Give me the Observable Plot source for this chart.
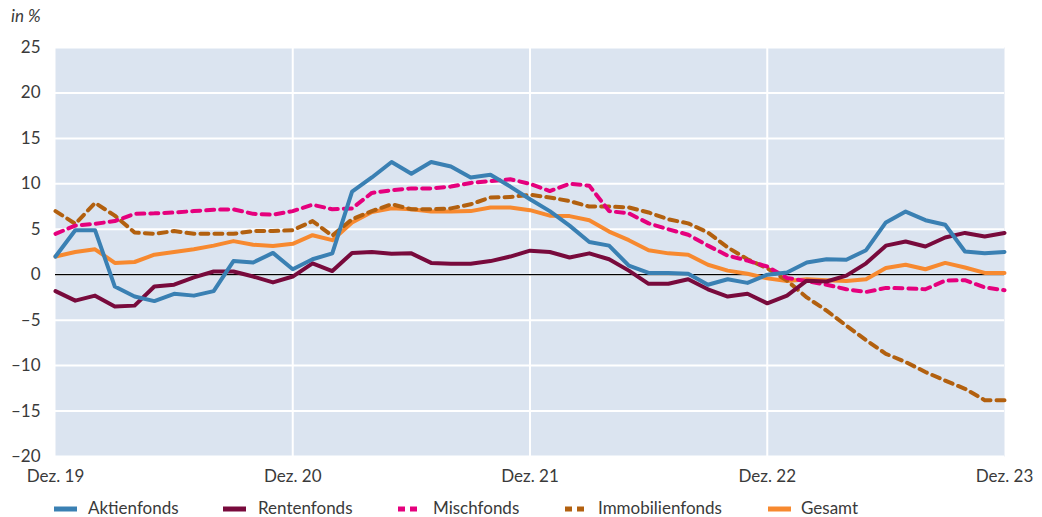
<!DOCTYPE html>
<html><head><meta charset="utf-8">
<script src="https://cdn.jsdelivr.net/npm/d3@7"></script>
<script src="https://cdn.jsdelivr.net/npm/@observablehq/plot@0.6"></script>
<style>
body{margin:0;background:#fff;font-family:Lato, "Open Sans", sans-serif;color:#3a3a3a;}
#wrap{position:relative;width:1042px;height:517px;overflow:hidden;}
#unit{position:absolute;left:11px;top:5px;font-style:italic;font-size:17px;}
#chart{position:absolute;left:0;top:30px;}
.sw{position:absolute;top:506px;}
.lt{position:absolute;top:498px;font-size:17px;white-space:nowrap;line-height:20px;}
</style></head>
<body><div id="wrap"><div id="unit">in %</div><div id="chart"></div><div id="legend"></div></div>
<script>
// month index 0 = Dez. 19 ... 48 = Dez. 23
const months = d3.range(0, 49);
const tickMonths = [0, 12, 24, 36, 48];
const tickLabels = ["Dez. 19", "Dez. 20", "Dez. 21", "Dez. 22", "Dez. 23"];
const yTicks = [-20, -15, -10, -5, 0, 5, 10, 15, 20, 25];
const seriesNames = ["Aktienfonds", "Rentenfonds", "Mischfonds", "Immobilienfonds", "Gesamt"];

const aktienfonds = [2.0, 4.9, 4.9, -1.3, -2.4, -2.9, -2.1, -2.3, -1.8, 1.5, 1.35, 2.4, 0.6, 1.7, 2.35, 9.15, 10.7, 12.4, 11.1, 12.4, 11.9, 10.7, 11.0, 9.7, 8.3, 7.0, 5.4, 3.6, 3.2, 1.0, 0.2, 0.2, 0.1, -1.1, -0.5, -0.9, 0.0, 0.25, 1.35, 1.7, 1.65, 2.7, 5.75, 6.95, 6.0, 5.5, 2.55, 2.35, 2.5];
const rentenfonds = [-1.8, -2.85, -2.3, -3.5, -3.4, -1.3, -1.1, -0.3, 0.35, 0.35, -0.2, -0.85, -0.2, 1.25, 0.4, 2.4, 2.5, 2.3, 2.35, 1.3, 1.2, 1.2, 1.5, 2.0, 2.65, 2.5, 1.9, 2.35, 1.7, 0.45, -1.0, -1.0, -0.5, -1.6, -2.4, -2.1, -3.15, -2.3, -0.65, -0.75, -0.1, 1.25, 3.2, 3.65, 3.1, 4.1, 4.6, 4.2, 4.6];
const mischfonds = [4.5, 5.4, 5.6, 5.9, 6.7, 6.75, 6.85, 7.0, 7.15, 7.2, 6.7, 6.6, 7.0, 7.7, 7.2, 7.3, 9.0, 9.3, 9.5, 9.5, 9.7, 10.1, 10.3, 10.5, 10.0, 9.2, 10.0, 9.8, 7.0, 6.75, 5.65, 5.0, 4.4, 3.2, 2.1, 1.55, 0.9, -0.35, -0.7, -1.1, -1.6, -1.9, -1.45, -1.5, -1.6, -0.65, -0.6, -1.4, -1.7];
const immobilienfonds = [7.0, 5.6, 7.9, 6.5, 4.65, 4.5, 4.8, 4.5, 4.5, 4.5, 4.8, 4.8, 4.9, 5.9, 4.3, 6.1, 7.0, 7.75, 7.2, 7.2, 7.3, 7.75, 8.5, 8.55, 8.8, 8.5, 8.1, 7.5, 7.5, 7.4, 6.85, 6.1, 5.65, 4.65, 3.0, 1.7, 0.7, -0.65, -2.5, -3.95, -5.6, -7.2, -8.7, -9.6, -10.7, -11.65, -12.55, -13.8, -13.8];
const gesamt = [2.0, 2.5, 2.8, 1.3, 1.4, 2.2, 2.5, 2.8, 3.2, 3.7, 3.3, 3.15, 3.4, 4.35, 3.8, 5.75, 6.9, 7.3, 7.2, 6.95, 6.95, 7.0, 7.4, 7.4, 7.1, 6.5, 6.45, 6.0, 4.75, 3.8, 2.7, 2.35, 2.2, 1.1, 0.45, 0.1, -0.4, -0.7, -0.5, -0.6, -0.7, -0.5, 0.75, 1.1, 0.6, 1.3, 0.8, 0.2, 0.2];

const seriesValues = [aktienfonds, rentenfonds, mischfonds, immobilienfonds, gesamt];
const colors = ["#3a80b3", "#780a3c", "#e5007d", "#b2600f", "#f7892f"];
const dashes = [null, null, "8,6", "8,6", null];
const drawOrder = [4, 3, 2, 1, 0];

const rows = (k) => months.map((m, i) => ({month: m, value: seriesValues[k][i], series: seriesNames[k]}));
const fmt = d => d < 0 ? "\u2013" + Math.abs(d) : String(d);

const chart = Plot.plot({
  width: 1042, height: 466,
  marginLeft: 55, marginRight: 38, marginTop: 17, marginBottom: 40,
  style: {fontFamily: "Lato, 'Open Sans', sans-serif", fontSize: "17px", color: "#3a3a3a", background: "transparent"},
  x: {domain: [0, 48]},
  y: {domain: [-20, 25]},
  marks: [
    Plot.frame({fill: "#dbe4f0", stroke: null}),
    Plot.gridY(yTicks, {stroke: "#fff", strokeOpacity: 1, strokeWidth: 2}),
    Plot.gridX(tickMonths.slice(1, -1), {stroke: "#fff", strokeOpacity: 1, strokeWidth: 2}),
    Plot.ruleY([0], {stroke: "#000", strokeWidth: 1.3}),
    ...drawOrder.map(k => Plot.line(rows(k), {x: "month", y: "value", stroke: colors[k], strokeWidth: 4, strokeDasharray: dashes[k] ?? undefined})),
    Plot.axisY(yTicks, {tickSize: 0, tickPadding: 15, tickFormat: fmt, label: null}),
    Plot.axisX(tickMonths, {tickSize: 0, tickPadding: 13, tickFormat: (d) => tickLabels[tickMonths.indexOf(d)], label: null})
  ]
});
document.getElementById("chart").appendChild(chart);

const swatchLeft = [54, 223, 398, 565, 768];
const textLeft = [88, 258, 433, 598, 801];
const lg = document.getElementById("legend");
seriesNames.forEach((name, k) => {
  const dash = dashes[k];
  const w = dash ? 19 : 23;
  const sw = document.createElement("div");
  sw.className = "sw";
  sw.style.left = swatchLeft[k] + "px";
  sw.innerHTML = `<svg width="${w}" height="6" style="display:block"><line x1="0" y1="3" x2="${w}" y2="3" stroke="${colors[k]}" stroke-width="5" ${dash ? 'stroke-dasharray="7,5"' : ''}/></svg>`;
  const t = document.createElement("div");
  t.className = "lt";
  t.style.left = textLeft[k] + "px";
  t.textContent = name;
  lg.appendChild(sw);
  lg.appendChild(t);
});
</script></body></html>
